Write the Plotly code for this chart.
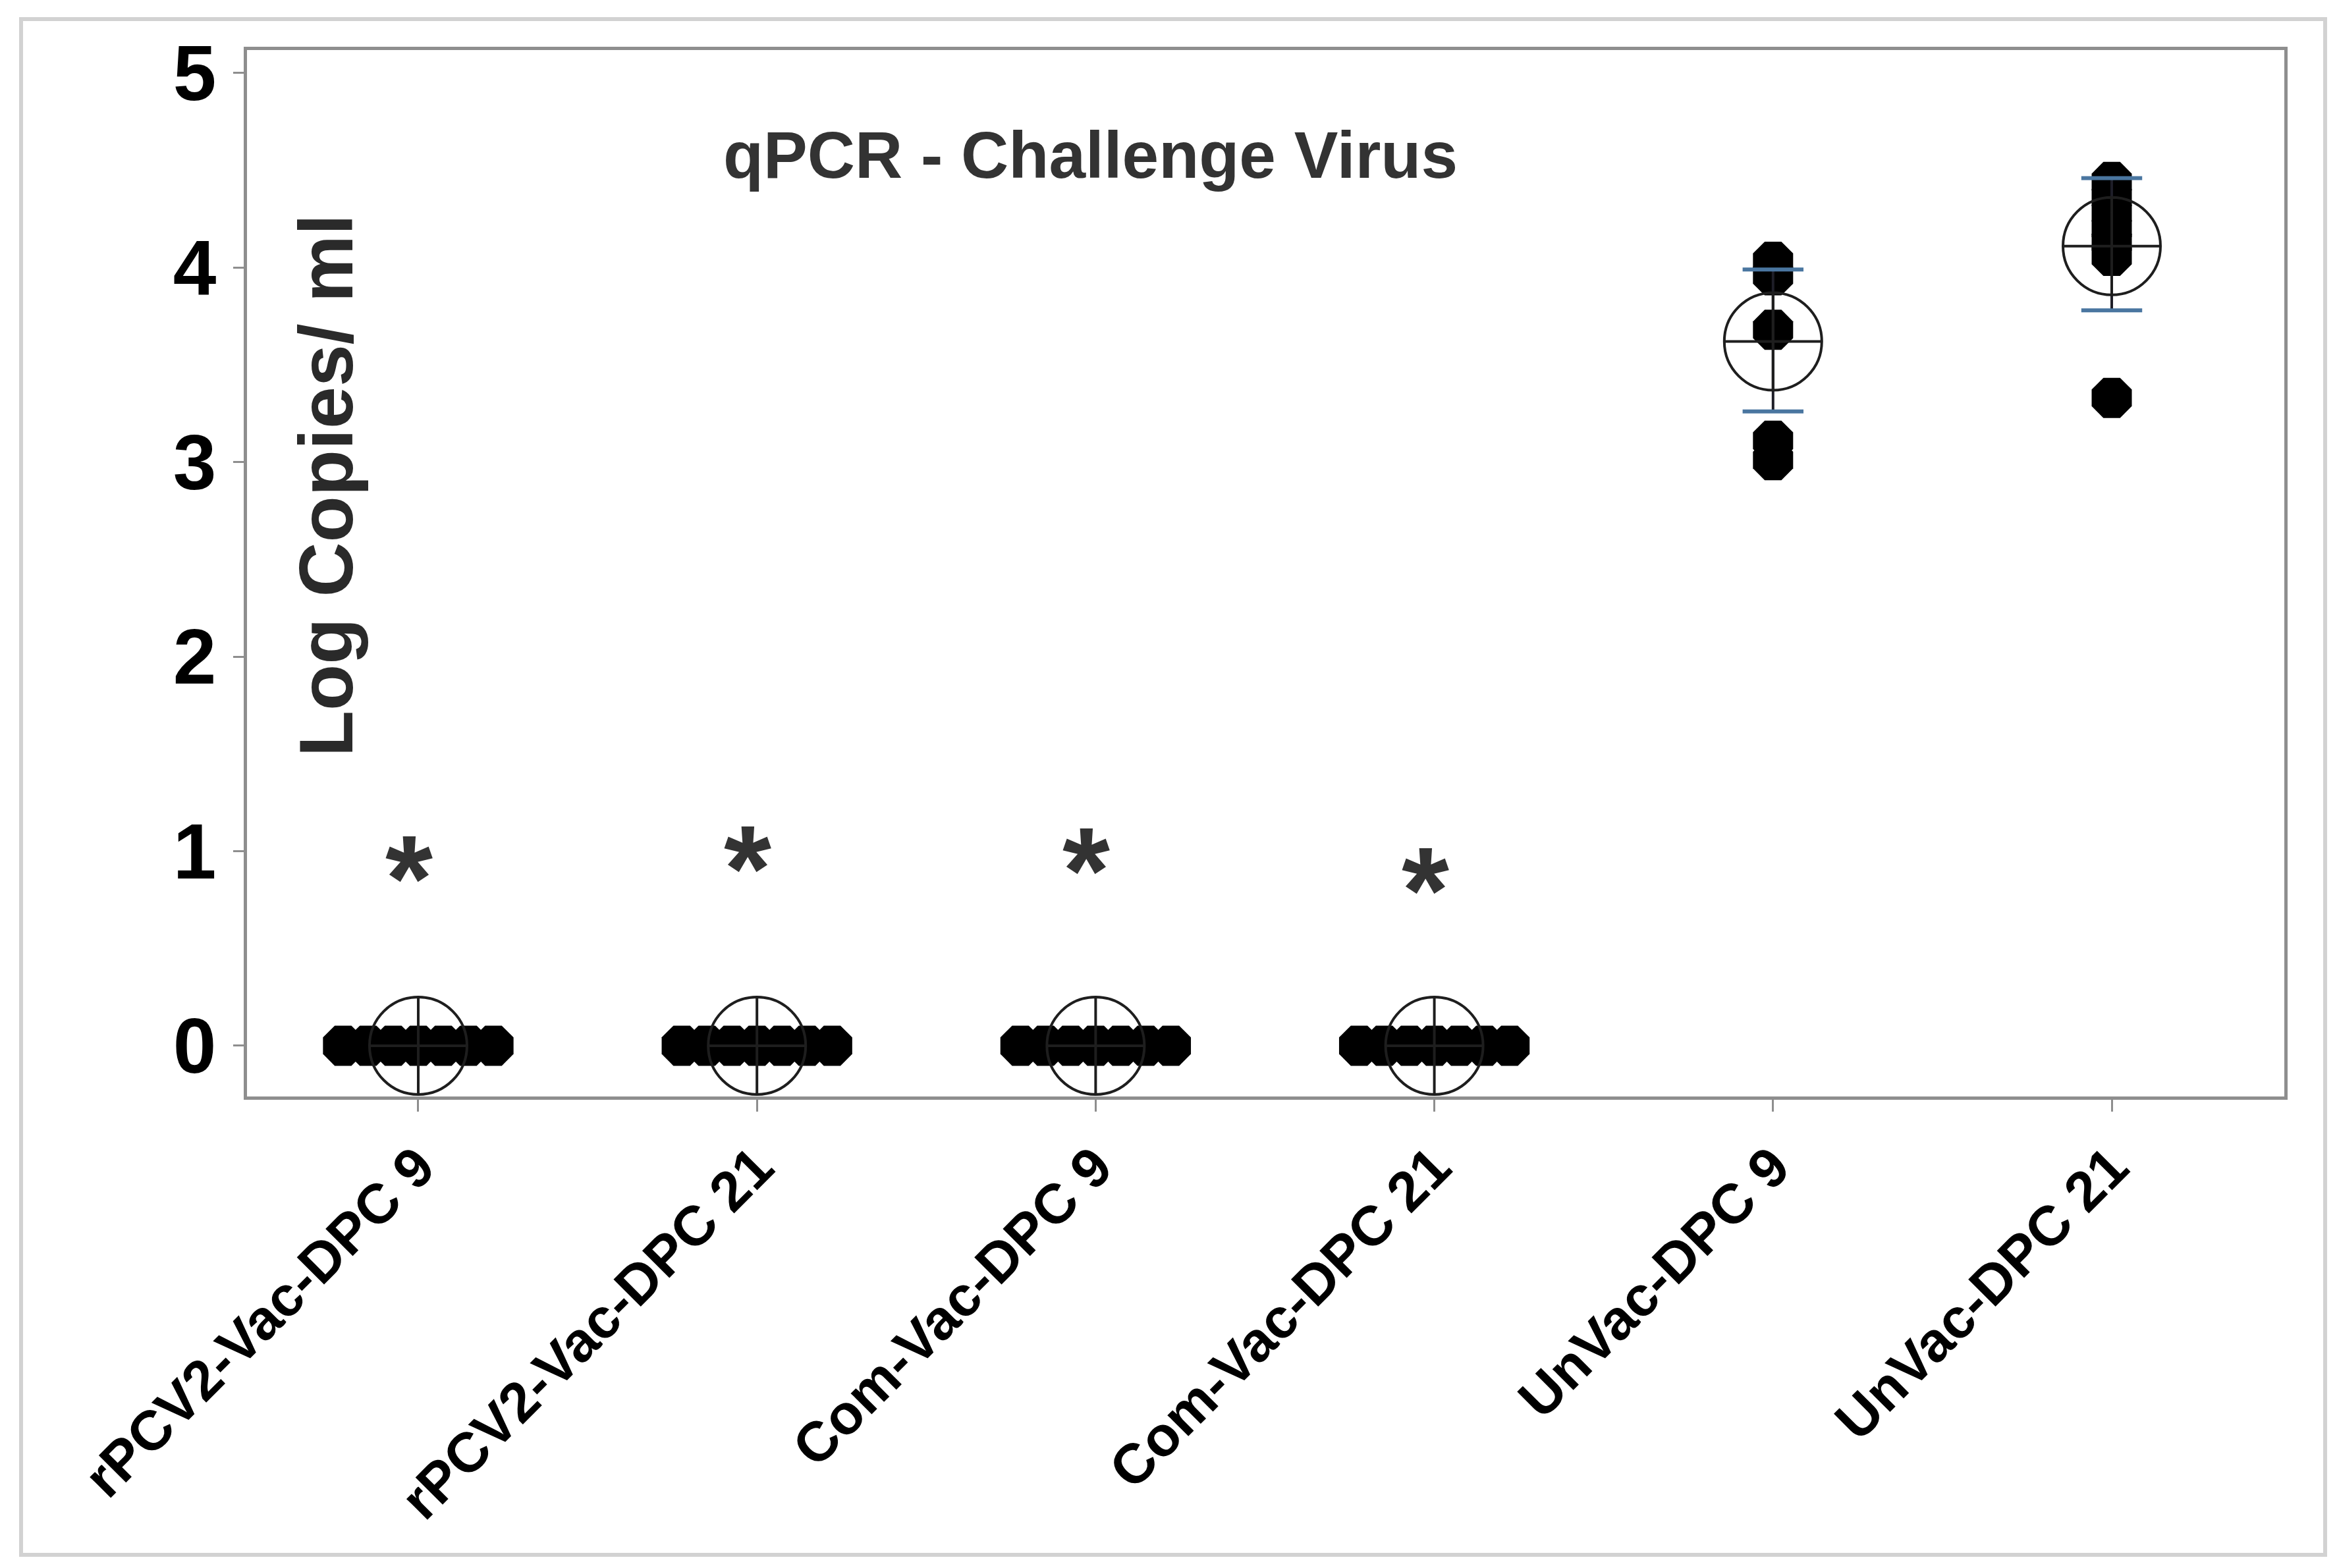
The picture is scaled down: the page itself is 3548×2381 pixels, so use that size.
import plotly.graph_objects as go

# ---------------- data ----------------
categories = ["rPCV2-Vac-DPC 9", "rPCV2-Vac-DPC 21", "Com-Vac-DPC 9",
              "Com-Vac-DPC 21", "UnVac-DPC 9", "UnVac-DPC 21"]

values_rpcv2_dpc9 = [0, 0, 0, 0, 0, 0, 0]
values_rpcv2_dpc21 = [0, 0, 0, 0, 0, 0, 0]
values_com_dpc9 = [0, 0, 0, 0, 0, 0, 0]
values_com_dpc21 = [0, 0, 0, 0, 0, 0, 0]
values_unvac_dpc9 = [4.03, 3.96, 3.68, 3.11, 3.01]
values_unvac_dpc21 = [4.44, 4.36, 4.28, 4.20, 4.13, 4.06, 3.33]

# horizontal jitter of individual points (category units)
jitter_zero_groups = [-0.222, -0.148, -0.074, 0.0, 0.074, 0.148, 0.222]
jitter_unvac = [0.0] * 7

group_means = [0, 0, 0, 0, 3.62, 4.11]
ci_low = [None, None, None, None, 3.26, 3.78]
ci_high = [None, None, None, None, 3.99, 4.46]

star_labels = ["*", "*", "*", "*"]
star_y = [0.91, 0.96, 0.95, 0.85]

y_ticks = [0, 1, 2, 3, 4, 5]

title_text = "qPCR - Challenge Virus"
y_label = "Log Copies/ ml"

# ---------------- figure ----------------
W, H = 3548, 2381
ML, MR, MT, MB = 367, 88, 68, 724
FONT = "Liberation Sans, Arial, sans-serif"

groups = [values_rpcv2_dpc9, values_rpcv2_dpc21, values_com_dpc9,
          values_com_dpc21, values_unvac_dpc9, values_unvac_dpc21]
jitters = [jitter_zero_groups] * 4 + [jitter_unvac, jitter_unvac]

xs, ys = [], []
for i, (vals, jit) in enumerate(zip(groups, jitters)):
    for v, j in zip(vals, jit):
        xs.append(i + j)
        ys.append(v)

fig = go.Figure()

# individual values
fig.add_trace(go.Scatter(
    x=xs, y=ys, mode="markers",
    marker=dict(symbol="octagon", size=66, color="black",
                line=dict(width=0)),
    hoverinfo="y", showlegend=False, cliponaxis=False))

# mean symbol + CI stem
idx = list(range(len(categories)))
err_plus = [(h - m) if h is not None else 0 for h, m in zip(ci_high, group_means)]
err_minus = [(m - l) if l is not None else 0 for l, m in zip(ci_low, group_means)]
fig.add_trace(go.Scatter(
    x=idx, y=group_means, mode="markers",
    marker=dict(symbol="circle-cross-open", size=148, color="#1e1e1e",
                line=dict(width=4, color="#1e1e1e")),
    error_y=dict(type="data", symmetric=False, array=err_plus,
                 arrayminus=err_minus, color="#1e1e28", thickness=4, width=0),
    showlegend=False, cliponaxis=False))

# CI caps (blue)
cap_x, cap_y = [], []
for i, (lo, hi) in enumerate(zip(ci_low, ci_high)):
    if lo is not None:
        cap_x += [i, i]
        cap_y += [lo, hi]
fig.add_trace(go.Scatter(
    x=cap_x, y=cap_y, mode="markers",
    marker=dict(symbol="line-ew", size=66, color="#4a76a0",
                line=dict(width=6, color="#4a76a0")),
    showlegend=False, cliponaxis=False))

annotations = []
for i, (s, sy) in enumerate(zip(star_labels, star_y)):
    annotations.append(dict(
        x=i, y=sy, xref="x", yref="y", text=s, showarrow=False,
        yshift=-15, xshift=-14,
        font=dict(family=FONT, size=185, color="#333333", weight="bold")))

annotations.append(dict(
    x=1.985, y=4.58, xref="x", yref="y", text=title_text, showarrow=False,
    font=dict(family=FONT, size=100, color="#333333", weight="bold")))
annotations.append(dict(
    x=-0.272, y=2.88, xref="x", yref="y", text=y_label, showarrow=False,
    textangle=-90,
    font=dict(family=FONT, size=115, color="#2a2a2a", weight="bold")))

PW = W - ML - MR
PH = H - MT - MB
fig.update_layout(
    width=W, height=H,
    margin=dict(l=ML, r=MR, t=MT, b=MB, pad=0),
    paper_bgcolor="white", plot_bgcolor="white",
    annotations=annotations,
    shapes=[dict(type="rect", xref="paper", yref="paper",
                 x0=(24 - ML) / PW, x1=(3522 - ML) / PW,
                 y0=(H - MB - 2353) / PH, y1=(H - MB - 21) / PH,
                 line=dict(color="#d2d2d2", width=6), layer="below")],
)

fig.update_xaxes(
    range=[-0.5056, 5.5095], tickmode="array", tickvals=idx, ticktext=categories,
    tickangle=-45, showgrid=False, zeroline=False,
    showline=True, linecolor="#8e8e8e", linewidth=5, mirror=True,
    ticks="outside", ticklen=18, tickwidth=3, tickcolor="#8e8e8e",
    tickfont=dict(family=FONT, size=85, color="black", weight="bold"))
fig.update_yaxes(
    range=[-0.261, 5.118], tickmode="array", tickvals=y_ticks,
    ticktext=[str(t) for t in y_ticks],
    showgrid=False, zeroline=False,
    showline=True, linecolor="#8e8e8e", linewidth=5, mirror=True,
    ticks="outside", ticklen=16, tickwidth=3, tickcolor="#8e8e8e",
    ticklabelstandoff=2,
    tickfont=dict(family=FONT, size=118, color="black", weight="bold"))

fig.write_html("out.html")
